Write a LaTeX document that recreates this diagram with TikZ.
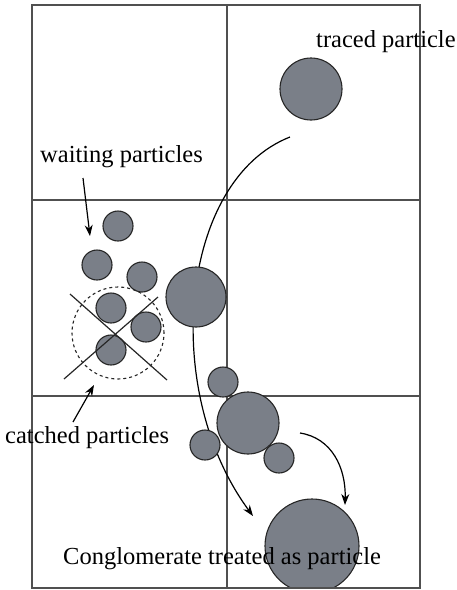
\documentclass[tikz,border=0pt]{standalone}
\usepackage{fontspec}
\setmainfont{Liberation Serif}
\usetikzlibrary{arrows.meta}
\definecolor{pfill}{RGB}{122,127,136}
\definecolor{gline}{RGB}{80,80,80}
\tikzset{
  gridline/.style={draw=gline, line width=1.6pt},
  particle/.style={circle, draw=black!85, fill=pfill, line width=1.1pt, inner sep=0pt},
  lbl/.style={font=\fontsize{24.5}{28}\selectfont, inner sep=0pt, anchor=base west},
  traj/.style={draw=black, line width=1.2pt, -{Stealth[length=11pt,width=8pt]}},
  ptr/.style={draw=black, line width=1.2pt, -{Stealth[length=11pt,width=8pt]}},
  crossline/.style={draw=black!85, line width=1.2pt},
}
\begin{document}
\begin{tikzpicture}[x=1pt,y=-1pt]
\useasboundingbox (0,0) rectangle (457,590);
% grid
\draw[gridline] (32,5) rectangle (420,588);
\draw[gridline] (227,5) -- (227,588);
\draw[gridline] (32,200) -- (420,200);
\draw[gridline] (32,396) -- (420,396);
% trajectory of traced particle
\coordinate (ts) at (290,137);
\coordinate (te) at (253,516);
\draw[traj] (ts) .. controls (180,180) and (160,390) .. (te);
% conglomerate arrow
\coordinate (cs) at (300,433);
\coordinate (ce) at (345,505);
\draw[traj] (cs) .. controls (332,438) and (346,468) .. (ce);
% particles
\node[particle, minimum size=62pt] (tp) at (311,89) {};
\node[particle, minimum size=60pt] (big) at (196,297) {};
\node[particle, minimum size=30pt] (w1) at (118,226) {};
\node[particle, minimum size=30pt] (w2) at (97,265) {};
\node[particle, minimum size=30pt] (w3) at (142,277) {};
\node[particle, minimum size=30pt] (k1) at (111,308) {};
\node[particle, minimum size=30pt] (k2) at (146,327) {};
\node[particle, minimum size=30pt] (k3) at (111,350) {};
\node[particle, minimum size=30pt] (a1) at (223,382) {};
\node[particle, minimum size=62pt] (a2) at (248,423) {};
\node[particle, minimum size=30pt] (a3) at (205,445) {};
\node[particle, minimum size=30pt] (a4) at (279,458) {};
\begin{scope}
\clip (0,0) rectangle (457,588);
\node[particle, minimum size=94pt] (cong) at (312,546) {};
\end{scope}
\draw[gridline] (32,588) -- (420,588);
% catch zone
\node[circle, draw=black!85, dashed, line width=1.1pt, minimum size=92pt, inner sep=0pt] (zone) at (118,333) {};
\coordinate (x1) at (70,294);
\coordinate (x2) at (167,380);
\coordinate (x3) at (158,297);
\coordinate (x4) at (64,379);
\draw[crossline] (x1) -- (x2);
\draw[crossline] (x3) -- (x4);
% labels
\node[lbl] (ltraced) at (316,47) {traced particle};
\node[lbl] (lwait) at (40,162) {waiting particles};
\node[lbl] (lcatch) at (5,443) {catched particles};
\node[lbl] (lcong) at (63,564) {Conglomerate treated as particle};
% pointers
\coordinate (wa) at (83,178);
\coordinate (wb) at (90,236);
\draw[ptr] (wa) -- (wb);
\coordinate (ca) at (73,422);
\coordinate (cb) at (94,385);
\draw[ptr] (ca) -- (cb);
\end{tikzpicture}
\end{document}
